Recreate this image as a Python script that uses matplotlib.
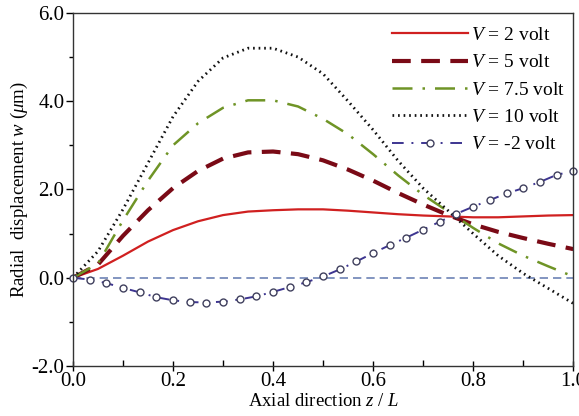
"""Radial displacement along the shell axis for several applied voltages."""

import matplotlib

matplotlib.use("Agg")
import matplotlib.pyplot as plt
import numpy as np
from matplotlib.ticker import FormatStrFormatter, MultipleLocator

# axial stations z/L for the positive-voltage runs
z = [0.00, 0.05, 0.10, 0.15, 0.20, 0.25, 0.30, 0.35, 0.40, 0.45, 0.50,
     0.55, 0.60, 0.65, 0.70, 0.75, 0.80, 0.85, 0.90, 0.95, 1.00]

# radial displacement w (um)
w_2v = [0.00, 0.20, 0.50, 0.82, 1.08, 1.28, 1.42, 1.50, 1.53, 1.55, 1.55,
        1.52, 1.48, 1.44, 1.41, 1.39, 1.37, 1.37, 1.39, 1.41, 1.42]
w_5v = [0.00, 0.30, 0.95, 1.53, 2.03, 2.42, 2.70, 2.84, 2.86, 2.80, 2.66,
        2.45, 2.20, 1.92, 1.66, 1.42, 1.21, 1.04, 0.90, 0.77, 0.65]
w_75v = [0.00, 0.32, 1.30, 2.20, 3.00, 3.50, 3.85, 4.02, 4.02, 3.88, 3.60,
         3.25, 2.80, 2.32, 1.88, 1.50, 1.13, 0.78, 0.50, 0.26, 0.03]
w_10v = [0.00, 0.60, 1.55, 2.60, 3.65, 4.45, 4.98, 5.20, 5.20, 5.00, 4.62,
         4.00, 3.35, 2.65, 2.03, 1.52, 1.00, 0.50, 0.10, -0.24, -0.58]

# the -2 volt run was sampled on a finer grid (31 stations)
z_neg = np.linspace(0.0, 1.0, 31)
w_neg2v = [0.00, -0.04, -0.12, -0.23, -0.33, -0.44, -0.51, -0.55, -0.56, -0.54,
           -0.49, -0.42, -0.32, -0.21, -0.10, 0.03, 0.19, 0.37, 0.56, 0.74,
           0.91, 1.09, 1.27, 1.45, 1.61, 1.76, 1.91, 2.03, 2.17, 2.33, 2.42]

x_ticks = [0.0, 0.2, 0.4, 0.6, 0.8, 1.0]
y_ticks = [-2.0, 0.0, 2.0, 4.0, 6.0]

plt.rcParams["font.family"] = "Liberation Serif"
plt.rcParams["mathtext.fontset"] = "custom"
plt.rcParams["mathtext.rm"] = "Liberation Serif"
plt.rcParams["mathtext.it"] = "Liberation Serif:italic"


def main():
    fig = plt.figure(figsize=(5.79, 4.16), dpi=100)
    ax = fig.add_axes([0.126, 0.120, 0.864, 0.849])

    ax.axhline(0.0, color="#6d83b5", lw=1.2, ls=(0, (5, 3)), zorder=1)

    ax.plot(z, w_2v, color="#d02020", lw=1.6, label="$V$ = 2 volt")
    ax.plot(z, w_5v, color="#7a0a16", lw=3.0, ls=(0, (4.5, 2.5)),
            label="$V$ = 5 volt")
    ax.plot(z, w_75v, color="#6f9426", lw=1.8, ls=(0, (8, 4, 1, 4)),
            label="$V$ = 7.5 volt")
    ax.plot(z, w_10v, color="#111111", lw=2.0, ls=(0, (0.6, 1.4)),
            label="$V$ = 10 volt")
    ax.plot(z_neg, w_neg2v, color="#3d3590", lw=1.4, ls=(0, (6, 4, 1, 4)),
            marker="o", ms=5.0, mfc="white", mec="#40405e", mew=1.0,
            clip_on=False, label="$V$ = -2 volt")

    ax.set_xlim(0.0, 1.0)
    ax.set_ylim(-2.0, 6.0)
    ax.set_xticks(x_ticks)
    ax.set_yticks(y_ticks)
    ax.xaxis.set_minor_locator(MultipleLocator(0.1))
    ax.yaxis.set_minor_locator(MultipleLocator(1.0))
    ax.xaxis.set_major_formatter(FormatStrFormatter("%.1f"))
    ax.yaxis.set_major_formatter(FormatStrFormatter("%.1f"))

    ax.tick_params(axis="x", which="major", direction="inout", length=7,
                   width=1.0, labelsize=15, pad=1)
    ax.tick_params(axis="x", which="minor", direction="in", length=4, width=1.0)
    ax.tick_params(axis="y", which="major", direction="out", length=5,
                   width=1.0, labelsize=15, pad=1)
    ax.tick_params(axis="y", which="minor", direction="out", length=3, width=1.0)
    for side in ax.spines.values():
        side.set_color("#333333")
        side.set_linewidth(1.0)

    ax.set_xlabel("Axial direction $z$ / $L$", fontsize=13.5, labelpad=1)
    ax.set_ylabel(r"Radial  displacement $w$ ($\mu$m)", fontsize=13.5,
                  labelpad=1)

    ax.legend(loc="upper right", bbox_to_anchor=(1.012, 1.0), frameon=False,
              fontsize=14, handlelength=3.9, handletextpad=0.2,
              labelspacing=0.5, borderaxespad=0.3)

    fig.savefig("out.png", dpi=100)


if __name__ == "__main__":
    main()
